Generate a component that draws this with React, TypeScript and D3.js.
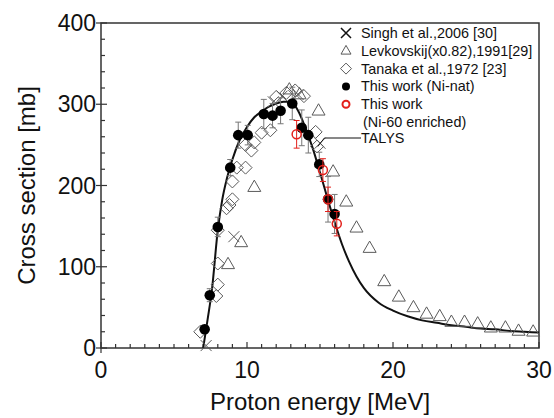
import React from 'react'
import * as d3 from 'd3'

// This work (Ni-nat)
const natE = [7.1, 7.45, 8.0, 8.85, 9.4, 10.05, 11.15, 11.75, 12.3, 13.1, 13.75, 14.2, 14.95, 15.55, 16.0]
const natV = [23, 65, 149, 222, 262, 262, 288, 286, 292, 301, 271, 262, 226, 183, 165]
const natErr = [5, 8, 12, 10, 16, 12, 18, 15, 16, 20, 22, 22, 15, 28, 24]

// This work (Ni-60 enriched)
const encE = [13.4, 15.2, 15.55, 16.15]
const encV = [263, 219, 183, 153]
const encErr = [17, 14, 15, 15]

// Levkovskij (x0.82)
const levE = [8.7, 9.6, 10.5, 12.9, 13.6, 14.9, 15.9, 16.8, 17.5, 18.4, 19.4, 20.4, 21.4, 22.3, 23.2, 24.0, 24.9, 25.8, 26.7, 27.7, 28.6, 29.6]
const levV = [103, 130, 198, 318, 312, 292, 217, 180, 148, 123, 82, 63, 50, 42, 39, 32, 32, 30, 25, 25, 21, 20]

// Tanaka
const tanE = [6.8, 7.9, 8.0, 8.0, 8.0, 8.6, 8.8, 9.0, 9.0, 9.3, 9.9, 9.9, 10.3, 10.5, 11.0, 11.6, 12.0, 12.7, 13.3, 13.9, 14.7, 14.8]
const tanV = [20, 64, 78, 104, 145, 172, 176, 183, 205, 222, 222, 250, 243, 253, 265, 268, 309, 314, 317, 310, 266, 248]

// Singh
const sinE = [7.2, 9.1, 11.8, 12.4, 13.5, 15.0]
const sinV = [3, 137, 303, 310, 312, 252]

// TALYS
const talE = [7.0, 7.3, 7.6, 8.0, 8.3, 8.6, 9.0, 9.5, 10, 10.5, 11, 11.5, 12, 12.5, 13, 13.5, 14, 14.5, 15, 15.5, 16, 16.5, 17, 17.5, 18, 19, 20, 21, 22, 23, 24, 25, 26, 27, 28, 29, 30]
const talV = [0, 35, 72, 145, 182, 207, 232, 256, 272, 284, 291, 297, 301, 303, 303, 292, 271, 246, 216, 185, 155, 128, 106, 88, 74, 56, 46, 39, 34, 31, 28, 26, 24, 23, 21, 20, 19]

const legendLabels = ['Singh et al.,2006 [30]', 'Levkovskij(x0.82),1991[29]', 'Tanaka et al.,1972 [23]', 'This work (Ni-nat)', 'This work']

const W = 554, H = 418
const m = { left: 101, right: 15, top: 23, bottom: 70 }
const font = 'Arial, "Liberation Sans", sans-serif'
const gray = '#5a5a5a'
const red = '#e3201b'

const tri = (cx: number, cy: number, s: number) => {
  const h = s * 0.87
  return `M${cx},${cy - h * 0.62}L${cx + s / 2},${cy + h * 0.38}L${cx - s / 2},${cy + h * 0.38}Z`
}
const dia = (cx: number, cy: number, s: number) =>
  `M${cx},${cy - s}L${cx + s},${cy}L${cx},${cy + s}L${cx - s},${cy}Z`
const cross = (cx: number, cy: number, s: number) =>
  `M${cx - s},${cy - s}L${cx + s},${cy + s}M${cx - s},${cy + s}L${cx + s},${cy - s}`

export default function App() {
  const x = d3.scaleLinear().domain([0, 30]).range([m.left, W - m.right])
  const y = d3.scaleLinear().domain([0, 400]).range([H - m.bottom, m.top])
  const x0 = x(0), x1 = x(30), y0 = y(0), y1 = y(400)

  const line = d3.line<number>().x((_, i) => x(talE[i])).y(d => y(d)).curve(d3.curveMonotoneX)

  const xMajor = x.ticks(3)
  const xMinor = d3.range(0, 31, 1)
  const yMajor = y.ticks(4)
  const yMinor = d3.range(0, 401, 20)

  const lx = 346, ltx = 361, ly0 = 33, ldy = 17.8

  return (
    <svg width={W} height={H} style={{ position: 'absolute', left: 0, top: 0, background: '#fff' }} fontFamily={font}>
      {/* frame */}
      <rect x={x0} y={y1} width={x1 - x0} height={y0 - y1} fill="none" stroke="#333" strokeWidth={1.5} />
      {xMinor.map(t => (
        <line key={'xm' + t} x1={x(t)} x2={x(t)} y1={y0} y2={y0 - (t % 10 === 0 ? 6 : 4)} stroke="#333" strokeWidth={1.2} />
      ))}
      {yMinor.map(t => (
        <line key={'ym' + t} x1={x0} x2={x0 + (t % 100 === 0 ? 6 : 4)} y1={y(t)} y2={y(t)} stroke="#333" strokeWidth={1.2} />
      ))}
      {yMajor.map(t => (
        <line key={'yM' + t} x1={x0 - 5} x2={x0} y1={y(t)} y2={y(t)} stroke="#333" strokeWidth={1.2} />
      ))}
      <line x1={x0} x2={x0} y1={y0} y2={y0 + 5} stroke="#333" strokeWidth={1.2} />
      {xMajor.map(t => (
        <text key={'xl' + t} x={x(t)} y={y0 + 30} fontSize={23} textAnchor="middle" fill="#111">{t}</text>
      ))}
      {yMajor.map(t => (
        <text key={'yl' + t} x={x0 - 5} y={y(t) + 8} fontSize={23} textAnchor="end" fill="#111">{t}</text>
      ))}
      <text x={(x0 + x1) / 2} y={410} fontSize={24} textAnchor="middle" fill="#111">Proton energy [MeV]</text>
      <text transform={`translate(35,${(y0 + y1) / 2}) rotate(-90)`} fontSize={24} textAnchor="middle" fill="#111">Cross section [mb]</text>

      {/* TALYS */}
      <path d={line(talV) || ''} fill="none" stroke="#111" strokeWidth={2} />

      {/* Levkovskij */}
      {levE.map((e, i) => (
        <path key={'lv' + i} d={tri(x(e), y(levV[i]), 13)} fill="none" stroke={gray} strokeWidth={1} />
      ))}
      {/* Tanaka */}
      {tanE.map((e, i) => (
        <path key={'tn' + i} d={dia(x(e), y(tanV[i]), 6.5)} fill="none" stroke={gray} strokeWidth={1} />
      ))}
      {/* Singh */}
      {sinE.map((e, i) => (
        <path key={'sg' + i} d={cross(x(e), y(sinV[i]), 5.5)} fill="none" stroke={gray} strokeWidth={1} />
      ))}

      {/* error bars Ni-nat */}
      {natE.map((e, i) => (
        <g key={'ne' + i} stroke="#777" strokeWidth={1}>
          <line x1={x(e)} x2={x(e)} y1={y(natV[i] - natErr[i])} y2={y(natV[i] + natErr[i])} />
          <line x1={x(e) - 3} x2={x(e) + 3} y1={y(natV[i] - natErr[i])} y2={y(natV[i] - natErr[i])} />
          <line x1={x(e) - 3} x2={x(e) + 3} y1={y(natV[i] + natErr[i])} y2={y(natV[i] + natErr[i])} />
        </g>
      ))}
      {natE.map((e, i) => (
        <circle key={'nc' + i} cx={x(e)} cy={y(natV[i])} r={5.3} fill="#000" />
      ))}
      {/* enriched */}
      {encE.map((e, i) => (
        <g key={'ee' + i} stroke={red} strokeWidth={1}>
          <line x1={x(e)} x2={x(e)} y1={y(encV[i] - encErr[i])} y2={y(encV[i] + encErr[i])} />
          <line x1={x(e) - 3} x2={x(e) + 3} y1={y(encV[i] - encErr[i])} y2={y(encV[i] - encErr[i])} />
          <line x1={x(e) - 3} x2={x(e) + 3} y1={y(encV[i] + encErr[i])} y2={y(encV[i] + encErr[i])} />
        </g>
      ))}
      {encE.map((e, i) => (
        <circle key={'ec' + i} cx={x(e)} cy={y(encV[i])} r={4.5} fill="none" stroke={red} strokeWidth={1.5} />
      ))}

      {/* legend */}
      <path d={cross(lx, ly0, 5)} stroke="#111" strokeWidth={1.5} fill="none" />
      <path d={tri(lx, ly0 + ldy, 10)} stroke={gray} strokeWidth={1} fill="none" />
      <path d={dia(lx, ly0 + 2 * ldy, 5.5)} stroke={gray} strokeWidth={1} fill="none" />
      <circle cx={lx} cy={ly0 + 3 * ldy} r={4} fill="#000" />
      <circle cx={lx} cy={ly0 + 4 * ldy} r={3.5} fill="none" stroke={red} strokeWidth={2} />
      {legendLabels.map((l, i) => (
        <text key={'lg' + i} x={ltx} y={ly0 + i * ldy + 5} fontSize={14.4} fill="#111">{l}</text>
      ))}
      <text x={ltx + 2} y={ly0 + 5 * ldy + 5} fontSize={14.4} fill="#111">(Ni-60 enriched)</text>
      <path d={`M${x(14.85)},${y(248)}L${x(15.3)},${ly0 + 5 * ldy + 16}L${ltx},${ly0 + 5 * ldy + 16}`} fill="none" stroke="#111" strokeWidth={1} />
      <text x={ltx} y={ly0 + 5 * ldy + 21} fontSize={14.4} fill="#111">TALYS</text>
    </svg>
  )
}
